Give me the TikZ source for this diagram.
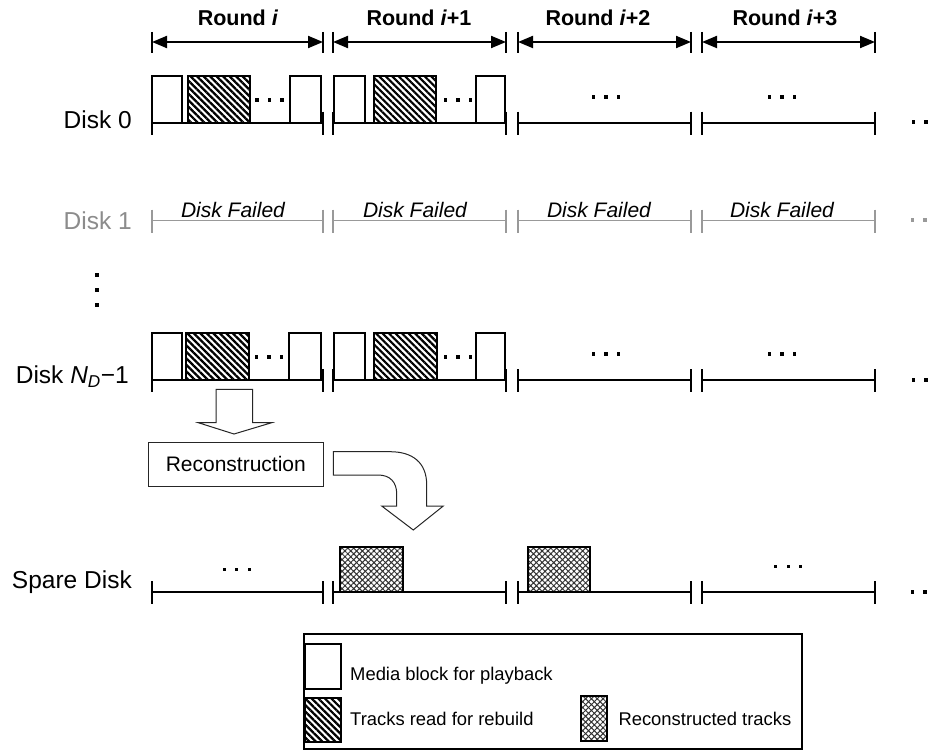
\documentclass[tikz,border=0pt]{standalone}
\usepackage{fontspec}
\setmainfont{Liberation Sans}
\usetikzlibrary{arrows.meta,patterns.meta}
\tikzset{
  seg/.style={line width=2pt},
  gseg/.style={line width=1.6pt, draw=black!40},
  wblk/.style={draw=black,line width=2pt,fill=white},
  hblk/.style={draw=black,line width=2pt,pattern={Lines[angle=-45,distance=4.6pt,line width=2.2pt]}},
  xblk/.style={draw=black,line width=2pt,pattern={Hatch[angle=45,distance=4.1pt,line width=1pt]},pattern color=black!80},
  lbl/.style={inner sep=0pt, font=\fontsize{24.5}{28}\selectfont, anchor=base east},
  rnd/.style={inner sep=0pt, font=\fontsize{21.5}{24}\selectfont\bfseries, anchor=base},
  fail/.style={inner sep=0pt, font=\fontsize{21}{24}\selectfont\itshape, anchor=base},
  leg/.style={inner sep=0pt, font=\fontsize{18.4}{22}\selectfont, anchor=base west},
  barrow/.style={draw=black!85, line width=1pt, fill=white},
  hd/.style={line width=2pt, {Triangle[length=15pt,width=12pt]}-{Triangle[length=15pt,width=12pt]}},
}
\newcommand\tridots[3][black]{%
  \foreach \dd in {-12.5,0,12.5}{\fill[#1] ({#2+\dd-1.6},{#3-1.6}) rectangle ++(3.2,3.2);}}
\newcommand\rowline[2][seg]{%
  \foreach \a/\b in {152/323,333/506,518/691,702/875}{%
    \draw[#1] (\a,#2) -- (\b,#2);
    \draw[#1] (\a,{#2-11}) -- (\a,{#2+12});
    \draw[#1] (\b,{#2-11}) -- (\b,{#2+12});}}
\begin{document}
\begin{tikzpicture}[x=1pt,y=-1pt]
\useasboundingbox[fill=white] (0,0) rectangle (933,751);

% header
\foreach \a/\b in {152/323,333/506,518/691,702/875}{%
  \draw[hd] (\a,42) -- (\b,42);
  \draw[seg] (\a,32) -- (\a,53);
  \draw[seg] (\b,32) -- (\b,53);}
\node[rnd] (r0) at (238,26) {Round \textit{i}};
\node[rnd] (r1) at (419,26) {Round \textit{i}+1};
\node[rnd] (r2) at (598,26) {Round \textit{i}+2};
\node[rnd] (r3) at (785,26) {Round \textit{i}+3};

% Disk 0
\node[lbl] (d0) at (132,128.3) {Disk 0};
\rowline{122.7}
\draw[wblk] (152,76) rectangle (182,122.7);
\draw[hblk] (188,76) rectangle (250,122.7);
\tridots{269.5}{100}
\draw[wblk] (289.5,76) rectangle (321,122.7);
\draw[wblk] (334,76) rectangle (365,122.7);
\draw[hblk] (373.5,76) rectangle (436,122.7);
\tridots{458}{100}
\draw[wblk] (476,76) rectangle (505,122.7);
\tridots{606}{97}
\tridots{782}{97}
\tridots{926}{122}

% Disk 1
\node[lbl, text=black!45] (d1) at (132,229.3) {Disk 1};
\rowline[gseg]{220.7}
\node[fail] (f0) at (233,217.5) {Disk Failed};
\node[fail] (f1) at (415,217.5) {Disk Failed};
\node[fail] (f2) at (599,217.5) {Disk Failed};
\node[fail] (f3) at (782,217.5) {Disk Failed};
\tridots[black!40]{925}{220}

% vertical dots
\fill (95.4,273.4) rectangle ++(3.2,3.2);
\fill (95.4,288.4) rectangle ++(3.2,3.2);
\fill (95.4,303.4) rectangle ++(3.2,3.2);

% Disk N_D-1
\node[lbl] (dn) at (129,383.3) {Disk \textit{N}\textsubscript{\textit{D}}−1};
\rowline{380}
\draw[wblk] (152,333.3) rectangle (182,380);
\draw[hblk] (186,333.3) rectangle (249,380);
\tridots{269}{357}
\draw[wblk] (289,333.3) rectangle (321,380);
\draw[wblk] (334,333.3) rectangle (365,380);
\draw[hblk] (373.5,333.3) rectangle (436.5,380);
\tridots{458}{357}
\draw[wblk] (476,333.3) rectangle (505,380);
\tridots{606}{354}
\tridots{782}{354}
\tridots{926}{380}

% block arrows and reconstruction
\draw[barrow] (216,389.3) -- (252.7,389.3) -- (252.7,422.7) -- (271.7,422.7) -- (234,434)
  -- (198.3,422.7) -- (216,422.7) -- cycle;
\node[draw=black!85, line width=1pt, minimum width=175pt, minimum height=43.7pt, inner sep=0pt,
  font=\fontsize{21}{24}\selectfont] (rec) at (235.8,464.2) {Reconstruction};
\draw[barrow] (333.3,451.7) -- (390,451.7) .. controls (412,451.7) and (426.7,462) .. (426.7,485)
  -- (426.7,506) -- (443.3,506) -- (413.3,530) -- (381.7,506) -- (396.7,506) -- (396.7,494)
  .. controls (396.7,482) and (390,475) .. (378,475) -- (333.3,475) -- cycle;

% Spare disk
\node[lbl] (sp) at (132,588.3) {Spare Disk};
\rowline{592.3}
\tridots{236.7}{569.3}
\draw[xblk] (340,546.7) rectangle (403.3,592.3);
\draw[xblk] (527.7,546.7) rectangle (590,592.3);
\tridots{788.3}{566.7}
\tridots{925}{592}

% legend
\draw[line width=2pt] (304,634.3) rectangle (801.7,749);
\draw[wblk] (305,644) rectangle (340.7,689.3);
\node[leg] (l1) at (350,680) {Media block for playback};
\draw[hblk] (305,697.7) rectangle (340.7,742.3);
\node[leg] (l2) at (350,725) {Tracks read for rebuild};
\draw[xblk] (581,695.7) rectangle (606.7,741);
\node[leg] (l3) at (618.3,725) {Reconstructed tracks};
\end{tikzpicture}
\end{document}
